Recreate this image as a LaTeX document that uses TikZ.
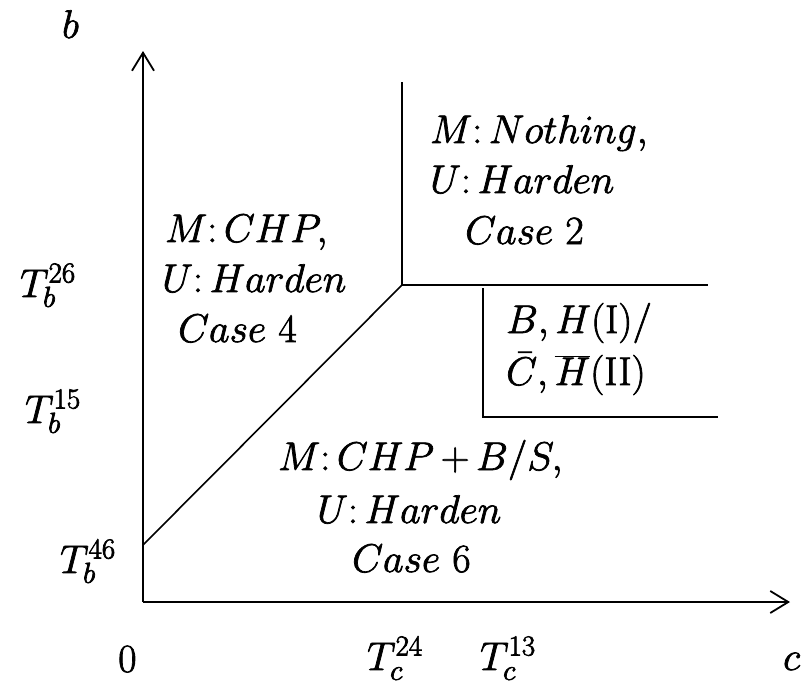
\RequirePackage{fix-cm}
\documentclass[tikz,border=0pt]{standalone}
\usetikzlibrary{arrows.meta}
% slightly heavier glyphs: fill and stroke the text outlines
\newcommand\heavy[1]{\special{pdf:literal direct 2 Tr 0.7 w}#1\special{pdf:literal direct 0 Tr}}
% threshold symbol with large scripts
\newcommand\Tlab[2]{$T^{\mbox{\fontsize{29}{29}\selectfont$#2$}}_{\mbox{\fontsize{29}{29}\selectfont$#1$}}$}
\tikzset{
  axis/.style={line width=1.8pt, -{Straight Barb[length=18pt,width=22pt]}},
  border/.style={line width=1.6pt},
  lbl/.style={inner sep=0pt, anchor=base west, font=\fontsize{40}{48}\selectfont},
}
\begin{document}
\begin{tikzpicture}[x=1pt, y=-1pt]
\useasboundingbox (0,0) rectangle (809,688);

% axes
\coordinate (O) at (143,602);
\coordinate (ytip) at (143,51);
\coordinate (xtip) at (790,602);
\draw[axis] (O) -- (ytip);
\draw[axis] (O) -- (xtip);

% region boundaries
\coordinate (A) at (143,545);
\coordinate (K) at (402,285);
\coordinate (Ktop) at (402,82);
\coordinate (Kright) at (708,285);
\coordinate (B1) at (483,288);
\coordinate (B2) at (483,417);
\coordinate (B3) at (718,417);
\draw[border] (A) -- (K);
\draw[border] (Ktop) -- (K) -- (Kright);
\draw[border] (B1) -- (B2) -- (B3);

% axis labels
\node[lbl] (lb) at (62,38) {\heavy{$b$}};
\node[lbl] (lc) at (783,670) {\heavy{$c$}};
\node[lbl] (l0) at (118,672) {\heavy{$0$}};
\node[lbl] (tc24) at (367,670) {\heavy{\Tlab{c}{24}}};
\node[lbl] (tc13) at (480,670) {\heavy{\Tlab{c}{13}}};
\node[lbl] (tb26) at (20,297) {\heavy{\Tlab{b}{26}}};
\node[lbl] (tb15) at (25,423) {\heavy{\Tlab{b}{15}}};
\node[lbl] (tb46) at (60,573) {\heavy{\Tlab{b}{46}}};

% case 4
\node[lbl] (c4a) at (165,242) {\heavy{$M\colon CHP,$}};
\node[lbl] (c4b) at (162,292) {\heavy{$U\colon Harden$}};
\node[lbl] (c4c) at (178,342) {\heavy{$Case\ 4$}};

% case 2
\node[lbl] (c2a) at (430,143) {\heavy{$M\colon Nothing,$}};
\node[lbl] (c2b) at (430,193) {\heavy{$U\colon Harden$}};
\node[lbl] (c2c) at (465,244) {\heavy{$Case\ 2$}};

% sub-region
\node[lbl] (bh1) at (506,333) {\heavy{$B, H(\mathrm{I})/$}};
\node[lbl] (bh2) at (506,385) {\heavy{$\bar{C}, \overline{H}(\mathrm{II})$}};

% case 6
\node[lbl] (c6a) at (278,470) {\heavy{$\medmuskip=3mu M\colon CHP + B/S,$}};
\node[lbl] (c6b) at (317,523) {\heavy{$U\colon Harden$}};
\node[lbl] (c6c) at (352,572) {\heavy{$Case\ 6$}};
\end{tikzpicture}
\end{document}
